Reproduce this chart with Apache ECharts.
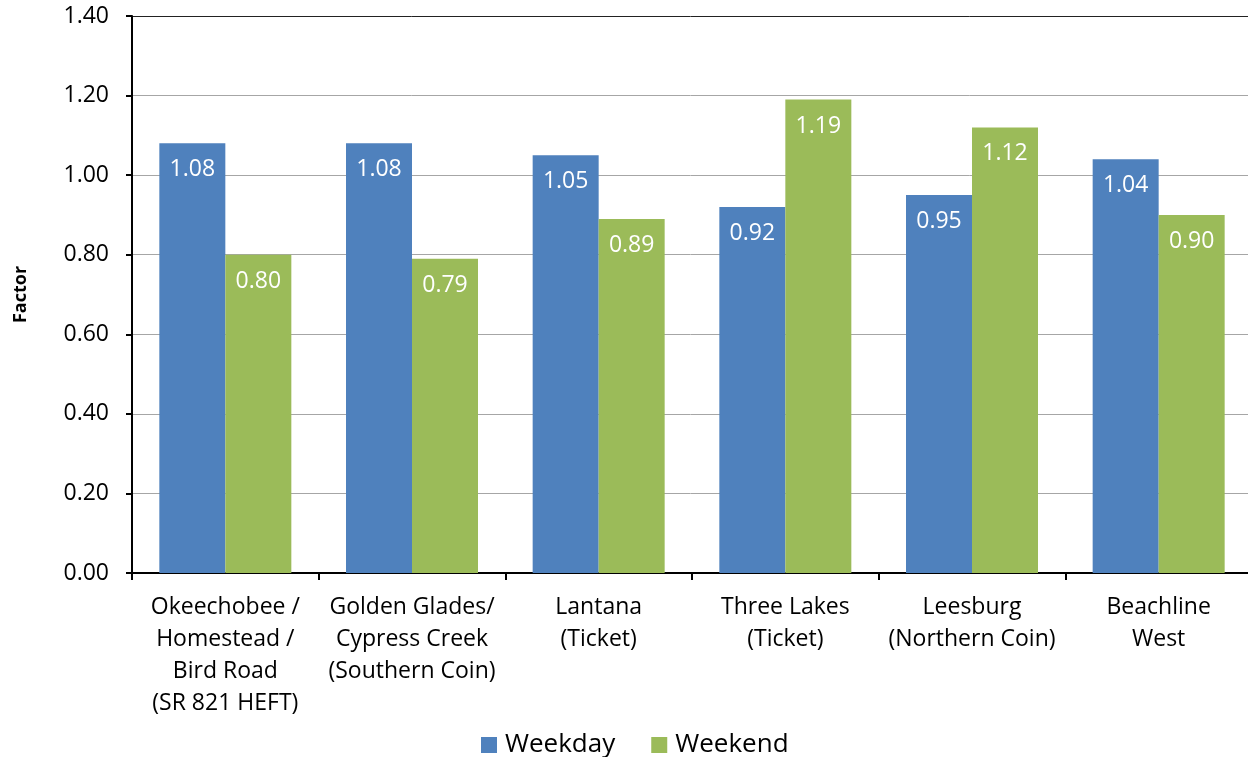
<!DOCTYPE html>
<html><head><meta charset="utf-8">
<script src="https://cdn.jsdelivr.net/npm/echarts@6/dist/echarts.min.js"></script>
<style>html,body{margin:0;padding:0;background:#fff}#c{width:1248px;height:757px}</style>
</head><body><div id="c"></div>
<script>
const categories = ["Okeechobee /\nHomestead /\nBird Road\n(SR 821 HEFT)", "Golden Glades/\nCypress Creek\n(Southern Coin)", "Lantana\n(Ticket)", "Three Lakes\n(Ticket)", "Leesburg\n(Northern Coin)", "Beachline\nWest"];
const weekday = [1.08, 1.08, 1.05, 0.92, 0.95, 1.04];
const weekend = [0.80, 0.79, 0.89, 1.19, 1.12, 0.90];
const yTicks = [0, 0.2, 0.4, 0.6, 0.8, 1.0, 1.2, 1.4];

const FONT = '"Open Sans", Lato, sans-serif';
const chart = echarts.init(document.getElementById('c'), null, {renderer: 'canvas'});
const lbl = {show: true, position: 'insideTop', distance: 15, color: '#fff', fontSize: 23, fontFamily: FONT, formatter: p => p.value.toFixed(2)};
chart.setOption({
  animation: false,
  textStyle: {fontFamily: FONT},
  grid: {left: 132, right: -4, top: 16, bottom: 184, containLabel: false, outerBoundsMode: 'none'},
  legend: {bottom: -6, left: 476, itemWidth: 16, itemHeight: 16, itemGap: 36, icon: 'rect',
    textStyle: {fontSize: 26, color: '#000', fontFamily: FONT, padding: [0, 0, 0, 3]}, data: ['Weekday', 'Weekend']},
  xAxis: {type: 'category', data: categories,
    axisLine: {lineStyle: {color: '#000', width: 2}},
    axisTick: {show: true, length: 7, lineStyle: {color: '#000', width: 2}, alignWithLabel: false},
    axisLabel: {fontSize: 23, color: '#000', lineHeight: 32, margin: 18, interval: 0, fontFamily: FONT}},
  yAxis: {type: 'value', min: 0, max: 1.4, interval: 0.2,
    name: 'Factor', nameLocation: 'middle', nameGap: 102, nameRotate: 90,
    nameTextStyle: {fontSize: 18, fontWeight: 'bold', color: '#000', fontFamily: FONT},
    axisLine: {show: true, lineStyle: {color: '#000', width: 2}},
    axisTick: {show: true, length: 6, lineStyle: {color: '#000', width: 2}},
    axisLabel: {fontSize: 23, color: '#000', margin: 23, formatter: v => v.toFixed(2), fontFamily: FONT},
    splitLine: {show: true, lineStyle: {color: ['#a6a6a6','#a6a6a6','#a6a6a6','#a6a6a6','#a6a6a6','#a6a6a6','#a6a6a6','#222'], width: 1}}},
  series: [
    {name: 'Weekday', type: 'bar', data: weekday, barWidth: 66, barGap: '0%', itemStyle: {color: '#4F81BD'}, label: lbl},
    {name: 'Weekend', type: 'bar', data: weekend, barWidth: 66, barGap: '0%', itemStyle: {color: '#9BBB59'}, label: lbl}
  ]
});
</script></body></html>
